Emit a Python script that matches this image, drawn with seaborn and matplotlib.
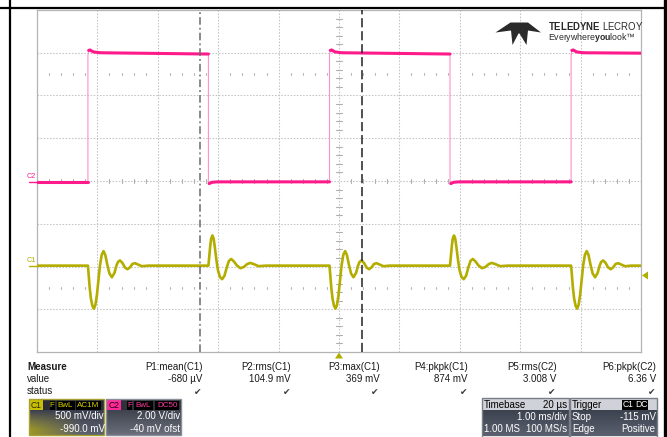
import numpy as np
import pandas as pd
import matplotlib
matplotlib.use("Agg")
import matplotlib.pyplot as plt
import seaborn as sns
from matplotlib.patches import Rectangle, Polygon

# ---------------- data ----------------
# Time in ms, screen centre = 0, 1 ms/div, 10 div
c2_rise_ms = [-4.157, -0.157, 3.843]
c2_fall_ms = [-2.162, 1.838]
c2_low_V = 0.0
c2_top_dt_ms = [0.0, 0.012, 0.035, 0.09, 0.20]      # after each rising edge
c2_top_V = [5.90, 6.15, 6.17, 6.08, 6.04]
c2_top_end_V = 5.98                                  # just before falling edge
c2_bot_dt_ms = [0.0, 0.012, 0.06, 0.15]              # after each falling edge
c2_bot_V = [-0.02, -0.08, -0.02, 0.0]
c2_end_V = 6.02

# C1 ringing shapes (ms after edge, V)
c1_rise_dt_ms = [0.0, 0.013, 0.030, 0.050, 0.075, 0.099, 0.124, 0.149, 0.174,
                 0.199, 0.228, 0.258, 0.288, 0.318, 0.356, 0.397, 0.439, 0.472,
                 0.497, 0.530, 0.571, 0.613, 0.654, 0.695, 0.737, 0.778, 0.828,
                 0.894, 0.993]
c1_rise_V = [0.0, -0.109, -0.261, -0.386, -0.471, -0.503, -0.460, -0.343, -0.167,
             0.0, 0.125, 0.170, 0.125, 0.020, -0.091, -0.136, -0.085, 0.0,
             0.043, 0.061, 0.032, -0.021, -0.042, -0.021, 0.020, 0.029, 0.014,
             -0.007, 0.0]
c1_fall_dt_ms = [0.0, 0.013, 0.030, 0.046, 0.066, 0.086, 0.108, 0.132, 0.157,
                 0.190, 0.227, 0.265, 0.306, 0.339, 0.377, 0.422, 0.472, 0.530,
                 0.588, 0.637, 0.687, 0.745, 0.828, 0.960]
c1_fall_V = [0.0, 0.102, 0.230, 0.318, 0.353, 0.318, 0.207, 0.067, -0.050,
             -0.132, -0.158, -0.120, -0.015, 0.055, 0.078, 0.049, 0.002, -0.030,
             -0.015, 0.016, 0.032, 0.020, -0.006, 0.0]

c1_scale_V, c1_offset_V = 0.5, -0.99
c2_scale_V, c2_offset_V = 2.0, -0.04
cursor_a_ms, cursor_b_ms = -2.296, 0.386
trigger_pos_ms = 0.0
trigger_level_V = -0.115

measure_names = ["P1:mean(C1)", "P2:rms(C1)", "P3:max(C1)", "P4:pkpk(C1)",
                 "P5:rms(C2)", "P6:pkpk(C2)"]
measure_values = ["-680 µV", "104.9 mV", "369 mV", "874 mV", "3.008 V", "6.36 V"]

# ---------------- build traces ----------------
def c2_div(v):
    return (np.asarray(v) + c2_offset_V) / c2_scale_V

def c1_div(v):
    return (np.asarray(v) + c1_offset_V) / c1_scale_V

# full C2 path (thin, shows edges)
all_t, all_v = [-5.0], [c2_low_V]
for k, tr in enumerate(c2_rise_ms):
    all_t.append(tr); all_v.append(c2_low_V)
    all_t += [tr + d for d in c2_top_dt_ms]; all_v += list(c2_top_V)
    if k < len(c2_fall_ms):
        tf = c2_fall_ms[k]
        all_t.append(tf); all_v.append(c2_top_end_V)
        all_t += [tf + d for d in c2_bot_dt_ms]; all_v += list(c2_bot_V)
    else:
        all_t.append(5.0); all_v.append(c2_end_V)

# thick plateaus
plateaus = [([-5.0, c2_rise_ms[0]], [c2_low_V, c2_low_V])]
for k, tr in enumerate(c2_rise_ms):
    top_t = [tr + d for d in c2_top_dt_ms[1:]]
    top_v = list(c2_top_V[1:])
    if k < len(c2_fall_ms):
        tf = c2_fall_ms[k]
        top_t.append(tf); top_v.append(c2_top_end_V)
        plateaus.append((top_t, top_v))
        bt = [tf + d for d in c2_bot_dt_ms[1:]] + [c2_rise_ms[k + 1]]
        bv = list(c2_bot_V[1:]) + [c2_low_V]
        plateaus.append((bt, bv))
    else:
        top_t.append(5.0); top_v.append(c2_end_V)
        plateaus.append((top_t, top_v))

edges = sorted([(t, "r") for t in c2_rise_ms] + [(t, "f") for t in c2_fall_ms])
c1_t, c1_v = [-5.0], [0.0]
for te, kind in edges:
    dts, vs = (c1_rise_dt_ms, c1_rise_V) if kind == "r" else (c1_fall_dt_ms, c1_fall_V)
    c1_t += [te + d for d in dts]
    c1_v += list(vs)
c1_t.append(5.0); c1_v.append(0.0)

# ---------------- figure ----------------
sns.set_theme(style="white")
plt.rcParams['font.family'] = ['Liberation Sans', 'DejaVu Sans']
plt.rcParams['mathtext.fontset'] = 'custom'
plt.rcParams['mathtext.rm'] = 'Liberation Sans'
plt.rcParams['mathtext.bf'] = 'Liberation Sans:bold'

W, H = 667, 437
fig = plt.figure(figsize=(W / 100, H / 100), dpi=100)
fig.patch.set_facecolor("white")

gx0, gy0, gx1, gy1 = 37, 10, 641, 352
ax = fig.add_axes([gx0 / W, (H - gy1) / H, (gx1 - gx0) / W, (gy1 - gy0) / H])
ax.set_facecolor("white")
ax.set_xlim(-5, 5)
ax.set_ylim(-4, 4)
ax.set_xticks([]); ax.set_yticks([])
for s in ax.spines.values():
    s.set_color("#b4b4b4"); s.set_linewidth(0.9)

grid_kw = dict(color="#c4c4c4", lw=0.75, ls=(0, (1.5, 1.5)), zorder=1)
for i in range(-4, 5):
    ax.axvline(i, **grid_kw)
for j in range(-3, 4):
    ax.axhline(j, **grid_kw)

# centre tick marks
tx = [x / 5 for x in range(-25, 26) if x % 5 != 0]
ty = [y / 5 for y in range(-20, 21) if y % 5 != 0]
for x in tx:
    ax.plot([x, x], [-0.05, 0.05], color="#b0b0b0", lw=0.8, zorder=1)
    for yy in (2.5, -2.5):
        ax.plot([x, x], [yy - 0.015, yy + 0.015], color="#b8b8b8", lw=0.8, zorder=1)
for y in ty:
    ax.plot([-0.045, 0.045], [y, y], color="#b0b0b0", lw=0.8, zorder=1)

pink, pink_light, olive = "#ff1a8c", "#ff8fc8", "#b3ad00"

# C2 thin full trace (edges)
sns.lineplot(x=all_t, y=c2_div(all_v), ax=ax, color=pink_light, linewidth=0.8,
             estimator=None, sort=False, legend=False, zorder=3)
for pt, pv in plateaus:
    sns.lineplot(x=pt, y=c2_div(pv), ax=ax, color=pink, linewidth=2.2,
                 estimator=None, sort=False, legend=False, zorder=4)

# C1 trace
sns.lineplot(x=c1_t, y=c1_div(c1_v), ax=ax, color=olive, linewidth=1.9,
             estimator=None, sort=False, legend=False, zorder=4)

ax.set_xlabel(""); ax.set_ylabel("")
ax.set_xlim(-5, 5); ax.set_ylim(-4, 4)

# cursors
ax.axvline(cursor_a_ms, color="#6a6a6a", lw=1.1, ls=(0, (5, 2, 1.2, 2)), zorder=6)
ax.axvline(cursor_b_ms, color="#222222", lw=1.1, ls=(0, (6, 2.5)), zorder=6)

# ---------------- overlay (pixel coordinates) ----------------
ov = fig.add_axes([0, 0, 1, 1], zorder=5)
ov.set_xlim(0, W); ov.set_ylim(H, 0)
ov.axis("off")
ov.patch.set_alpha(0)

# outer frame
ov.plot([10, 10], [0, H], color="black", lw=1.6)
ov.plot([0, 665], [8, 8], color="black", lw=1.6)
ov.plot([664.5, 664.5], [0, H], color="black", lw=2.4)

# channel labels on left
ov.text(31.5, 176.5, "C2", color=pink, fontsize=5.2, ha="center", va="center")
ov.plot([29, 37], [182, 182], color=pink, lw=1.0)
ov.text(31.5, 260.5, "C1", color=olive, fontsize=5.2, ha="center", va="center")
ov.plot([29, 37], [266, 266], color=olive, lw=1.0)

# trigger markers
def px_x(t):
    return gx0 + (t + 5) / 10 * (gx1 - gx0)

def px_y(d):
    return gy0 + (4 - d) / 8 * (gy1 - gy0)

tpx = px_x(trigger_pos_ms)
ov.add_patch(Polygon([[tpx - 4, 358.5], [tpx + 4, 358.5], [tpx, 352.5]], closed=True,
                     color=olive, lw=0))
tly = px_y(c1_div(trigger_level_V))
ov.add_patch(Polygon([[642, tly], [648, tly - 4], [648, tly + 4]], closed=True,
                     color=olive, lw=0))

# logo
logo = [(495.5, 32.5), (510.5, 22.5), (528, 22.5), (541, 32.5), (528, 30.5), (526.5, 45),
        (519.5, 33.5), (518.5, 33.5), (512.5, 45), (511, 30.5)]
ov.add_patch(Polygon(logo, closed=True, color="#2a2a2a", lw=0))
ov.text(548, 30.5, r"$\mathbf{TELEDYNE}$ LECROY", fontsize=6.9, ha="left", va="baseline",
        color="#2a2a2a")
ov.text(548, 40.0, r"Everywhere$\mathbf{you}$look™", fontsize=6.3, ha="left", va="baseline",
        color="#2a2a2a")

# measurement table
fs = 7
ov.text(27, 367.5, "Measure", fontsize=fs, fontweight="bold", va="center", color="#1a1a1a")
ov.text(27, 379.5, "value", fontsize=fs, va="center", color="#1a1a1a")
ov.text(27, 391.5, "status", fontsize=fs, va="center", color="#1a1a1a")
col_right = [202.5, 291, 379.5, 468, 556.5, 656]
for xr, nm, vl in zip(col_right, measure_names, measure_values):
    ov.text(xr, 367.5, nm, fontsize=fs, ha="right", va="center", color="#1a1a1a")
    ov.text(xr, 379.5, vl, fontsize=fs, ha="right", va="center", color="#1a1a1a")
    ov.text(xr - 1, 392, "✔", fontsize=6.5, ha="right", va="center", color="#3a3a3a")

# gradient boxes
def grad(x0, y0, x1, y1, top, bot, glow=None, z=6):
    h = max(int(round(y1 - y0)), 2); w = max(int(round(x1 - x0)), 2)
    yy = np.linspace(0, 1, h)[:, None, None]
    xx = np.linspace(0, 1, w)[None, :, None]
    top = np.array(matplotlib.colors.to_rgb(top)); bot = np.array(matplotlib.colors.to_rgb(bot))
    img = top * (1 - yy) + bot * yy + 0 * xx
    if glow is not None:
        g = np.array(matplotlib.colors.to_rgb(glow))
        wgt = np.clip(yy * 1.25, 0, 1) * np.clip(1 - xx * 1.4, 0, 1)
        img = img * (1 - wgt) + g * wgt
    ov.imshow(np.clip(img, 0, 1), extent=(x0, x1, y1, y0), aspect="auto",
              interpolation="bilinear", zorder=z)

def tag(x0, x1, y0, y1, txt, fc, tc, fs_=5.8, z=8):
    ov.add_patch(Rectangle((x0, y0), x1 - x0, y1 - y0, facecolor=fc, edgecolor="none", zorder=z))
    ov.text((x0 + x1) / 2, (y0 + y1) / 2 + 0.3, txt, color=tc, fontsize=fs_, ha="center",
            va="center", zorder=z + 1)

# C1 box
grad(28.5, 410, 104, 435, "#3b3f4d", "#5d6170", glow="#9c9626")
ov.add_patch(Rectangle((28.5, 399), 75.5, 11, facecolor="#2a2d36", edgecolor="none", zorder=6))
ov.add_patch(Rectangle((28.5, 399), 75.5, 36, facecolor="none", edgecolor="#a8a030", lw=1.0, zorder=9))
tag(29.5, 43, 400, 409.5, "C1", "#c8c000", "#2a2a00", 6.2)
tag(49.5, 54.5, 400.5, 409.5, "F", "#000000", "#d8d000")
tag(56.5, 74.5, 400.5, 409.5, "BwL", "#000000", "#d8d000")
tag(76, 101, 400.5, 409.5, "AC1M", "#000000", "#d8d000")
ov.text(103.5, 416, "500 mV/div", color="white", fontsize=fs, ha="right", va="center", zorder=10)
ov.text(104.5, 429.5, "-990.0 mV", color="white", fontsize=fs, ha="right", va="center", zorder=10)

# C2 box
grad(106, 410, 180.5, 435, "#40444f", "#6a6e7a")
ov.add_patch(Rectangle((106, 399), 74.5, 11, facecolor="#2e3139", edgecolor="none", zorder=6))
ov.add_patch(Rectangle((106, 399), 74.5, 36, facecolor="none", edgecolor="#8a8e98", lw=1.0, zorder=9))
tag(107, 121, 400, 409.5, "C2", "#ff2a9a", "#2a0015", 6.2)
tag(127.3, 132.3, 400.5, 409.5, "F", "#000000", "#ff3aa0")
tag(134.3, 152.7, 400.5, 409.5, "BwL", "#000000", "#ff3aa0")
tag(155, 179.3, 400.5, 409.5, "DC50", "#000000", "#ff3aa0")
ov.text(180, 416, "2.00 V/div", color="white", fontsize=fs, ha="right", va="center", zorder=10)
ov.text(180, 429.5, "-40 mV ofst", color="white", fontsize=fs, ha="right", va="center", zorder=10)

# Timebase box
grad(481.5, 410, 568.5, 436.5, "#3c414e", "#5a606e")
ov.add_patch(Rectangle((481.5, 398), 87, 12, facecolor="#cfd2d8", edgecolor="none", zorder=7))
ov.add_patch(Rectangle((481.5, 398), 87, 38.5, facecolor="none", edgecolor="#7a7e88", lw=1.0, zorder=9))
ov.text(483.5, 404.5, "Timebase", color="black", fontsize=fs, ha="left", va="center", zorder=10)
ov.text(567, 404.5, "20 µs", color="black", fontsize=fs, ha="right", va="center", zorder=10)
ov.text(567, 416.5, "1.00 ms/div", color="white", fontsize=fs, ha="right", va="center", zorder=10)
ov.text(483.5, 429, "1.00 MS", color="white", fontsize=fs, ha="left", va="center", zorder=10)
ov.text(567, 429, "100 MS/s", color="white", fontsize=fs, ha="right", va="center", zorder=10)

# Trigger box
grad(570, 410, 657, 436.5, "#3c414e", "#5a606e")
ov.add_patch(Rectangle((570, 398), 87, 12, facecolor="#cfd2d8", edgecolor="none", zorder=7))
ov.add_patch(Rectangle((570, 398), 87, 38.5, facecolor="none", edgecolor="#7a7e88", lw=1.0, zorder=9))
ov.text(572, 404.5, "Trigger", color="black", fontsize=fs, ha="left", va="center", zorder=10)
tag(621.5, 635.5, 399.5, 409.5, "C1", "#000000", "white", 6.2, z=10)
tag(636, 647.5, 399.5, 409.5, "DC", "#000000", "white", 6.2, z=10)
ov.text(572, 416.5, "Stop", color="white", fontsize=fs, ha="left", va="center", zorder=10)
ov.text(655.5, 416.5, "-115 mV", color="white", fontsize=fs, ha="right", va="center", zorder=10)
ov.text(572, 429, "Edge", color="white", fontsize=fs, ha="left", va="center", zorder=10)
ov.text(655.5, 429, "Positive", color="white", fontsize=fs, ha="right", va="center", zorder=10)

ov.set_xlim(0, W); ov.set_ylim(H, 0)
fig.savefig("out.png", dpi=100, facecolor="white")
